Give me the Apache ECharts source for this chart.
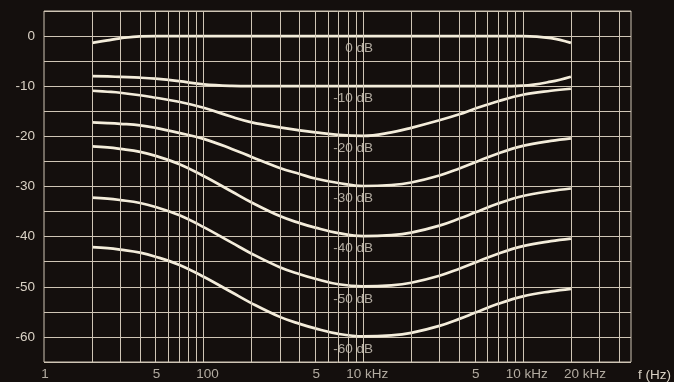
<!DOCTYPE html>
<html><head><meta charset="utf-8">
<script src="https://cdn.jsdelivr.net/npm/echarts@6/dist/echarts.min.js"></script>
<style>html,body{margin:0;padding:0;background:#140f0d;}#c{width:674px;height:382px;}</style>
</head><body><div id="c"></div>
<script>
// Frequencies (Hz) at which curves are sampled
const freqs = [20, 25, 30, 40, 50, 70, 100, 150, 200, 300, 400, 500, 700, 1000, 1500, 2000, 3000, 4000, 5000, 7000, 10000, 15000, 20000];
// Curve values (dB)
const curve0  = [-1.35, -0.85, -0.45, -0.05, 0, 0, 0, 0, 0, 0, 0, 0, 0, 0, 0, 0, 0, 0, 0, 0, 0, -0.4, -1.35];
const curve10 = [-8.0, -8.05, -8.15, -8.3, -8.5, -9.0, -9.65, -9.95, -10, -10, -10, -10, -10, -10, -10, -10, -10, -10, -10, -10, -9.9, -9.1, -8.1];
const curve20 = [-10.9, -11.1, -11.3, -11.8, -12.3, -13.1, -14.3, -16.1, -17.2, -18.2, -18.8, -19.2, -19.7, -19.9, -19.2, -18.3, -16.8, -15.6, -14.5, -13.0, -11.7, -10.9, -10.5];
const curve30 = [-17.2, -17.35, -17.5, -17.8, -18.3, -19.3, -20.5, -22.5, -24.1, -26.3, -27.5, -28.4, -29.3, -29.9, -29.7, -29.2, -27.8, -26.4, -25.2, -23.4, -21.9, -20.9, -20.4];
const curve40 = [-22.0, -22.2, -22.5, -23.1, -23.9, -25.5, -27.9, -31.0, -33.2, -35.9, -37.3, -38.2, -39.3, -39.9, -39.7, -39.2, -37.8, -36.4, -35.2, -33.4, -31.9, -30.9, -30.4];
const curve50 = [-32.2, -32.4, -32.7, -33.3, -34.1, -35.7, -38.1, -41.2, -43.4, -46.1, -47.5, -48.4, -49.5, -49.9, -49.7, -49.2, -47.8, -46.4, -45.2, -43.4, -41.9, -40.9, -40.4];
const curve60 = [-42.1, -42.3, -42.6, -43.2, -44.0, -45.6, -48.0, -51.1, -53.3, -56.0, -57.4, -58.3, -59.4, -59.9, -59.7, -59.2, -57.8, -56.4, -55.2, -53.4, -51.9, -50.9, -50.4];
const curves = [curve0, curve10, curve20, curve30, curve40, curve50, curve60];

// Level labels inside the plot
const levels = [0, -10, -20, -30, -40, -50, -60];
const levelLabels = ['0 dB', '-10 dB', '-20 dB', '-30 dB', '-40 dB', '-50 dB', '-60 dB'];

// Axis ticks
const xTickValues = [10, 50, 100, 500, 1000, 5000, 10000, 20000];
const xTickLabels = ['1', '5', '100', '5', '10 kHz', '5', '10 kHz', '20 kHz'];
const yTickValues = [0, -10, -20, -30, -40, -50, -60];
const gridFreqs = [20, 30, 40, 50, 60, 70, 80, 90, 100, 200, 300, 400, 500, 600, 700, 800, 900,
  1000, 2000, 3000, 4000, 5000, 6000, 7000, 8000, 9000, 10000, 20000, 30000, 40000];

const X_MIN = 10, X_MAX = 47600, Y_MIN = -65, Y_MAX = 5;
const FONT = 'Liberation Sans, Arial, Helvetica, sans-serif';
const GRID_COLOR = '#cfc5b5';
const TEXT_COLOR = '#dad2c5';
const CURVE_COLOR = '#f4eddb';

const chart = echarts.init(document.getElementById('c'), null, {renderer: 'canvas'});

function tickLabelShift(text) {
  if (text === '20 kHz') return 14;
  if (text.length >= 3) return 4;
  return 1;
}

const series = [];
series.push({
  type: 'line', data: [], z: 1, silent: true,
  markLine: {
    silent: true, symbol: ['none', 'none'], animation: false,
    label: {show: false},
    lineStyle: {color: GRID_COLOR, width: 1, type: 'solid', opacity: 1},
    emphasis: {disabled: true},
    data: gridFreqs.map(f => ({xAxis: f}))
  }
});
curves.forEach(c => {
  series.push({
    type: 'line', z: 3, smooth: 0.4, showSymbol: false, silent: true,
    lineStyle: {color: CURVE_COLOR, width: 2.7},
    data: freqs.map((f, i) => [f, c[i]])
  });
});
series.push({
  type: 'scatter', z: 4, silent: true, clip: false, symbolSize: 0.01,
  data: xTickValues.map((v, i) => ({
    value: [v, Y_MIN],
    label: {offset: [tickLabelShift(xTickLabels[i]), 0]}
  })),
  label: {show: true, position: 'bottom', distance: 5, color: TEXT_COLOR, fontSize: 13.5, fontFamily: FONT,
    formatter: p => xTickLabels[p.dataIndex]}
});
series.push({
  type: 'scatter', z: 4, silent: true, clip: false, symbolSize: 0.01,
  data: levels.map(l => [1150, l]),
  label: {show: true, position: 'bottom', align: 'right', distance: 5, color: TEXT_COLOR, fontSize: 13.5, fontFamily: FONT,
    formatter: p => levelLabels[p.dataIndex]}
});

chart.setOption({
  animation: false,
  backgroundColor: '#140f0d',
  textStyle: {fontFamily: FONT},
  grid: {left: 44, right: 43, top: 11, bottom: 20, show: true, borderColor: GRID_COLOR, borderWidth: 1, backgroundColor: 'transparent'},
  xAxis: {
    type: 'log', logBase: 10, min: X_MIN, max: X_MAX,
    name: 'f (Hz)', nameLocation: 'end', nameGap: 7,
    nameTextStyle: {color: TEXT_COLOR, fontSize: 13.5, fontFamily: FONT, verticalAlign: 'top', padding: [6, 0, 0, 0]},
    axisLine: {show: false, onZero: false}, axisTick: {show: false}, axisLabel: {show: false},
    splitLine: {show: false}, minorSplitLine: {show: false}
  },
  yAxis: {
    type: 'value', min: Y_MIN, max: Y_MAX, interval: 5,
    axisLine: {show: false}, axisTick: {show: false},
    axisLabel: {color: TEXT_COLOR, fontSize: 13.5, fontFamily: FONT, margin: 9,
      formatter: v => yTickValues.includes(v) ? String(v) : ''},
    splitLine: {show: true, lineStyle: {color: GRID_COLOR, width: 1}}
  },
  series: series
});
</script></body></html>
